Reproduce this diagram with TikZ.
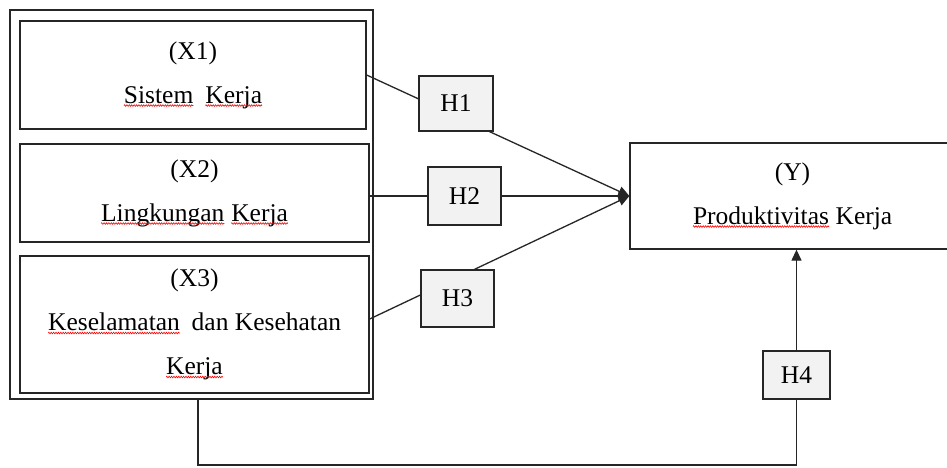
\documentclass[tikz,border=0pt]{standalone}
\usepackage{fontspec}
\setmainfont{Liberation Serif}
\usetikzlibrary{arrows.meta,calc,decorations.pathmorphing}
\newcommand\sq[1]{\tikz[baseline=(w.base)]{\node[draw=none,fill=none,rectangle,minimum width=0pt,minimum height=0pt,inner sep=0pt,outer sep=0pt,align=left] (w) {#1};
  \draw[draw=red,line width=0.6pt,decorate,decoration={zigzag,amplitude=0.8pt,segment length=2.4pt}] ([yshift=-2.4pt]w.base west) -- ([yshift=-2.4pt]w.base east);}}
\begin{document}
\begin{tikzpicture}[x=1pt,y=-1pt,
  box/.style={draw=black!85,line width=1.3pt,rectangle,inner sep=0pt,align=center,
    font=\fontsize{25.5}{44}\selectfont},
  hbox/.style={draw=black!85,line width=1.3pt,fill=black!5,rectangle,inner sep=0pt,
    font=\fontsize{25.5}{30}\selectfont},
  conn/.style={draw=black!85,line width=1.3pt},
  arrowc/.style={conn,-{Triangle[length=11pt,width=10pt]}}]
\useasboundingbox (0,0) rectangle (947,467);
\clip (0,0) rectangle (947,467);
\fill[white] (0,0) rectangle (947,467);
% variable boxes
\node[box,minimum width=363pt,minimum height=389pt] (outer) at (191.5,204.5) {};
\node[box,minimum width=346pt,minimum height=108pt] (x1) at (193,75)
  {(X1)\\\sq{Sistem}\hspace{0.45em}\sq{Kerja}};
\node[box,minimum width=349pt,minimum height=98pt] (x2) at (194.5,193)
  {(X2)\\\sq{Lingkungan} \sq{Kerja}};
\node[box,minimum width=349pt,minimum height=137pt] (x3) at (194.5,324.5)
  {(X3)\\\sq{Keselamatan}\hspace{0.45em}dan Kesehatan\\\sq{Kerja}};
\node[box,minimum width=325pt,minimum height=106pt] (y) at (792.5,196)
  {(Y)\\\sq{Produktivitas} Kerja};
% connectors
\draw[arrowc] (x1.east) -- (y.west);
\draw[arrowc] (x2.east |- y.west) -- (y.west);
\draw[arrowc] ($(x3.east)+(0,-5.5)$) -- (y.west);
% hypothesis boxes
\node[hbox,minimum width=74pt,minimum height=55pt] (h1) at (456,103.5) {H1};
\node[hbox,minimum width=73pt,minimum height=58pt] (h2) at (464.5,196) {H2};
\node[hbox,minimum width=73pt,minimum height=57pt] (h3) at (457.5,298.5) {H3};
\node[hbox,minimum width=67pt,minimum height=48pt] (h4) at (796.5,375) {H4};
% bottom connector
\coordinate (c1) at (198,465);
\coordinate (c2) at (796.5,465);
\draw[conn] (c1 |- outer.south) -- (c1) -- (c2) -- (h4.south);
\draw[arrowc] (h4.north) -- (h4.north |- y.south);
\end{tikzpicture}
\end{document}
